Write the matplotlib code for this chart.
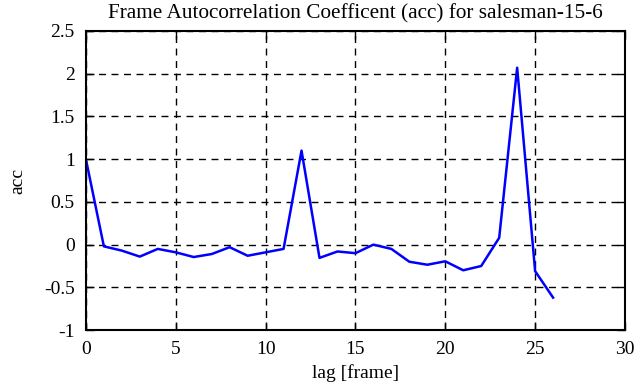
import matplotlib.pyplot as plt
import numpy as np

# autocorrelation per lag
lag = np.arange(0, 27)
acc = [1.0, -0.02, -0.07, -0.14, -0.05, -0.09, -0.145, -0.11, -0.03, -0.13,
       -0.09, -0.05, 1.1, -0.155, -0.08, -0.10, 0.0, -0.05, -0.20, -0.235,
       -0.195, -0.30, -0.25, 0.08, 2.07, -0.31, -0.62]

xticks = [0, 5, 10, 15, 20, 25, 30]
yticks = [-1, -0.5, 0, 0.5, 1, 1.5, 2, 2.5]
yticklabels = ['-1', '-0.5', '0', '0.5', '1', '1.5', '2', '2.5']

plt.rcParams['font.family'] = ['Liberation Serif', 'DejaVu Serif']

fig = plt.figure(figsize=(6.41, 3.87), dpi=100)
ax = fig.add_axes([0.134, 0.147, 0.841, 0.773])

ax.plot(lag, acc, color='#0000ff', lw=1.8)

ax.set_xlim(0, 30)
ax.set_ylim(-1, 2.5)
ax.set_xticks(xticks)
ax.set_yticks(yticks)
ax.set_yticklabels(yticklabels)
ax.grid(True, color='black', ls=(0, (5, 4)), lw=1)
ax.tick_params(direction='in', length=6, width=1, labelsize=14, top=True, right=True, pad=8)
for s in ax.spines.values():
    s.set_linewidth(1.5)

ax.set_xlabel('lag [frame]', fontsize=14, labelpad=4)
ax.set_ylabel('acc', fontsize=14, labelpad=13)
ax.set_title('Frame Autocorrelation Coefficent (acc) for salesman-15-6', fontsize=15.3, pad=9)

fig.savefig('out.png', dpi=100)
